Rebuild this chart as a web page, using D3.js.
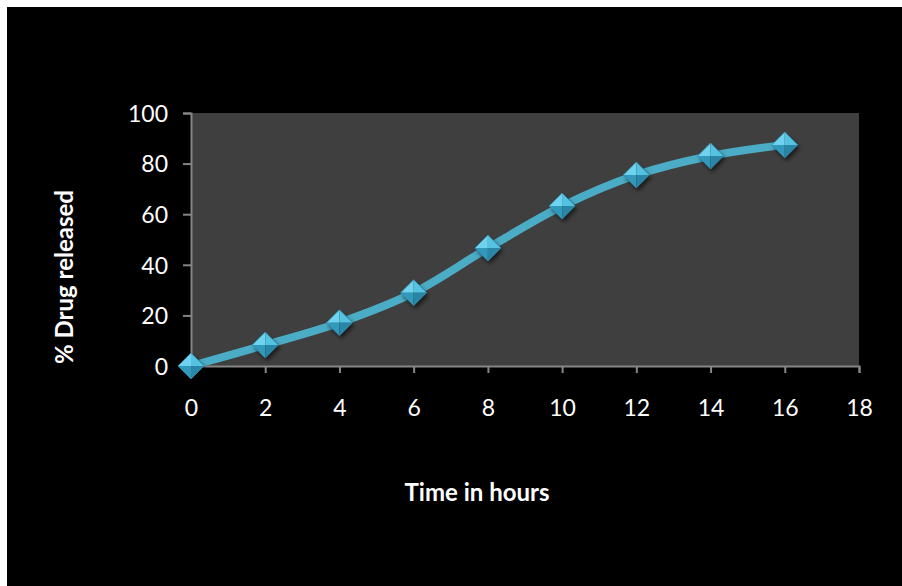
<!DOCTYPE html>
<html>
<head>
<meta charset="utf-8">
<script src="https://cdn.jsdelivr.net/npm/d3@7"></script>
<style>
  html, body { margin: 0; padding: 0; background: #ffffff; }
  svg { display: block; }
  text { font-family: Lato, "Open Sans", "Liberation Sans", sans-serif; fill: #ffffff; }
</style>
</head>
<body>
<svg id="chart" width="902" height="586"></svg>
<script>
// Cumulative drug release over time
const hours = [0, 2, 4, 6, 8, 10, 12, 14, 16];
const released = [0, 8.3, 17.1, 29.0, 46.6, 63.2, 75.5, 83.0, 87.4];
const xTicks = [0, 2, 4, 6, 8, 10, 12, 14, 16, 18];
const yTicks = [0, 20, 40, 60, 80, 100];

const svg = d3.select("#chart");
const W = 902, H = 586;

// Chart frame
svg.append("rect").attr("x", 7).attr("y", 7).attr("width", W - 7).attr("height", H - 7).attr("fill", "#000000");

const plot = { left: 191, right: 859, top: 113, bottom: 366 };
const x = d3.scaleLinear().domain([0, 18]).range([plot.left, plot.right]);
const y = d3.scaleLinear().domain([0, 100]).range([plot.bottom, plot.top]);

// Plot area
svg.append("rect")
  .attr("x", plot.left).attr("y", plot.top)
  .attr("width", plot.right - plot.left).attr("height", plot.bottom - plot.top)
  .attr("fill", "#3f3f3f");

// Axes
const axisColor = "#868686";
const yAxis = svg.append("g").attr("transform", `translate(${plot.left},0)`)
  .call(d3.axisLeft(y).tickValues(yTicks).tickSize(8).tickPadding(15).tickFormat(d3.format("d")));
const xAxis = svg.append("g").attr("transform", `translate(0,${plot.bottom})`)
  .call(d3.axisBottom(x).tickValues(xTicks).tickSize(7).tickPadding(27).tickFormat(d3.format("d")));
[xAxis, yAxis].forEach(g => {
  g.select(".domain").attr("stroke", axisColor).attr("stroke-width", 2);
  g.selectAll(".tick line").attr("stroke", axisColor).attr("stroke-width", 2);
  g.selectAll(".tick text").attr("fill", "#ffffff").style("font-size", "23px")
    .style("font-family", "Lato, 'Open Sans', sans-serif");
});
yAxis.selectAll(".tick text").attr("dy", "0.36em");

// Axis titles
svg.append("text")
  .attr("x", 477).attr("y", 501)
  .attr("text-anchor", "middle")
  .style("font-size", "24px").style("font-weight", "bold")
  .text("Time in hours");
svg.append("text")
  .attr("transform", "translate(73,277) rotate(-90)")
  .attr("text-anchor", "middle")
  .style("font-size", "24px").style("font-weight", "bold")
  .text("% Drug released");

const pts = hours.map((h, i) => [h, released[i]]);

// Series line
svg.append("path")
  .datum(pts)
  .attr("fill", "none")
  .attr("stroke", "#4bacc6")
  .attr("stroke-width", 8)
  .attr("stroke-linejoin", "round")
  .attr("d", d3.line().x(d => x(d[0])).y(d => y(d[1])).curve(d3.curveCatmullRom.alpha(0.5)));

// Diamond markers with faceted shading
const defs = svg.append("defs");
const shadow = defs.append("filter").attr("id", "mshadow").attr("x", "-50%").attr("y", "-50%").attr("width", "200%").attr("height", "200%");
shadow.append("feGaussianBlur").attr("stdDeviation", 2);

const r = 13;
const markers = svg.append("g").selectAll("g").data(pts).join("g")
  .attr("transform", d => `translate(${x(d[0])},${y(d[1])})`);

markers.append("path")
  .attr("d", `M0,${-r} L${r},0 L0,${r} L${-r},0 Z`)
  .attr("transform", "translate(2,3)")
  .attr("fill", "rgba(0,0,0,0.6)")
  .attr("filter", "url(#mshadow)");
// upper-left facet
markers.append("path").attr("d", `M0,${-r} L${-r},0 L0,0 Z`).attr("fill", "#6fd3ef");
// upper-right facet
markers.append("path").attr("d", `M0,${-r} L${r},0 L0,0 Z`).attr("fill", "#55c2e2");
// lower-left facet
markers.append("path").attr("d", `M${-r},0 L0,${r} L0,0 Z`).attr("fill", "#3399bb");
// lower-right facet
markers.append("path").attr("d", `M${r},0 L0,${r} L0,0 Z`).attr("fill", "#2a86a6");
markers.append("path")
  .attr("d", `M0,${-r} L${r},0 L0,${r} L${-r},0 Z`)
  .attr("fill", "none").attr("stroke", "#2f8fae").attr("stroke-width", 0.8);
</script>
</body>
</html>
